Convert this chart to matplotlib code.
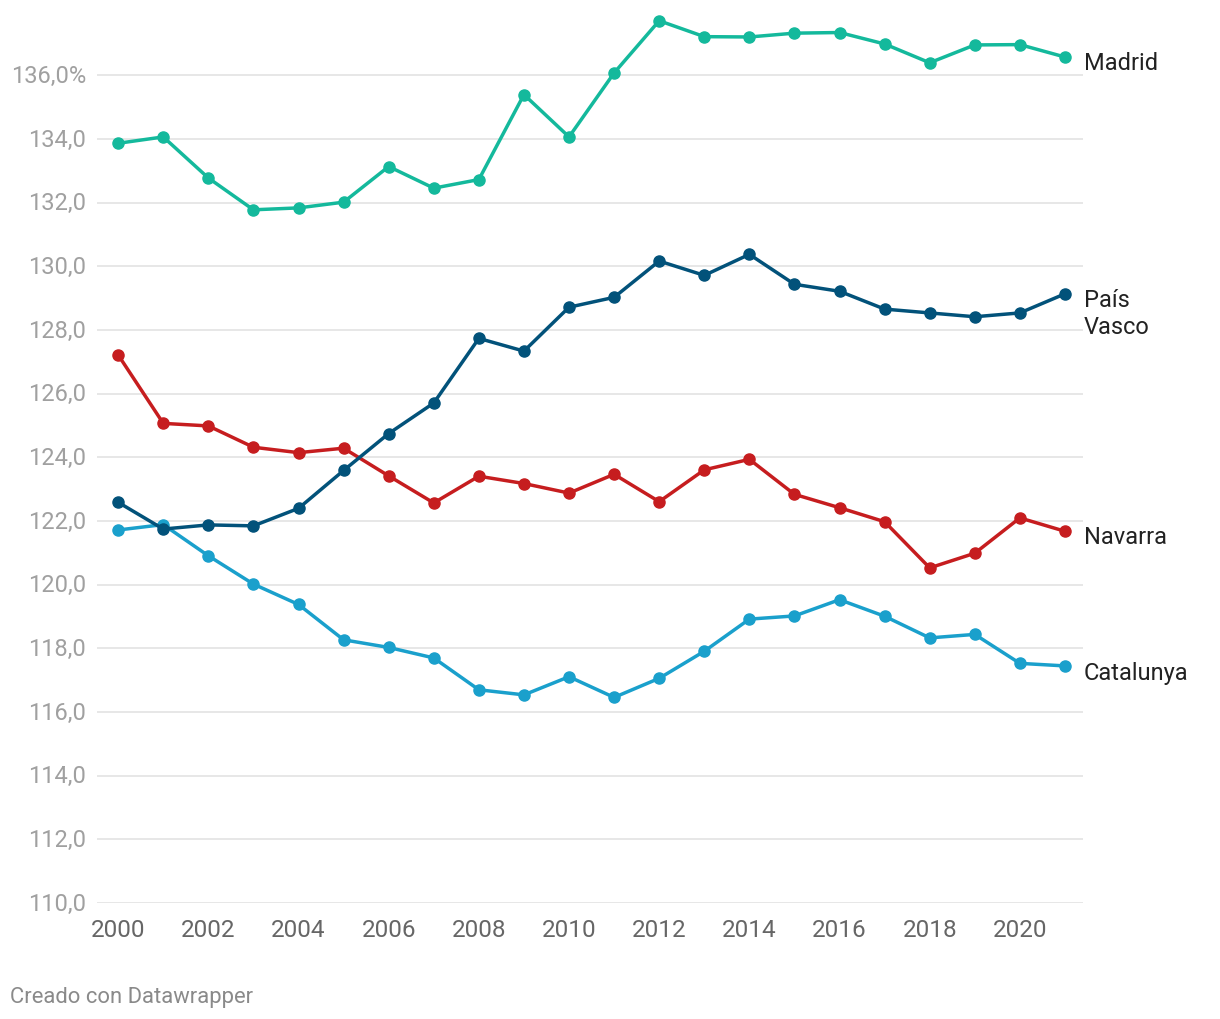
import matplotlib
matplotlib.use('Agg')
import matplotlib.pyplot as plt
import numpy as np

plt.rcParams['font.family'] = ['Roboto', 'DejaVu Sans']

years = list(range(2000, 2022))

madrid = [133.87, 134.07, 132.78, 131.78, 131.84, 132.02, 133.14, 132.46, 132.73, 135.40, 134.07,
          136.08, 137.72, 137.22, 137.21, 137.33, 137.35, 136.99, 136.40, 136.96, 136.97, 136.58]
pais_vasco = [122.59, 121.75, 121.88, 121.85, 122.40, 123.59, 124.75, 125.71, 127.74, 127.34, 128.72,
              129.03, 130.17, 129.72, 130.38, 129.44, 129.22, 128.66, 128.54, 128.42, 128.54, 129.14]
navarra = [127.22, 125.07, 124.99, 124.32, 124.15, 124.29, 123.42, 122.57, 123.41, 123.18, 122.88,
           123.47, 122.61, 123.61, 123.94, 122.84, 122.42, 121.98, 120.53, 120.99, 122.10, 121.68]
catalunya = [121.72, 121.89, 120.91, 120.02, 119.38, 118.27, 118.03, 117.70, 116.70, 116.54, 117.11,
             116.46, 117.06, 117.91, 118.92, 119.02, 119.53, 119.01, 118.33, 118.44, 117.53, 117.45]

series = [
    ('Madrid', madrid, '#14b99c'),
    ('Navarra', navarra, '#c61d1f'),
    ('Catalunya', catalunya, '#1aa0cc'),
    ('País\nVasco', pais_vasco, '#02527a'),
]

yticks = list(range(110, 137, 2))
xticks = list(range(2000, 2021, 2))

fig = plt.figure(figsize=(12.2, 10.2), dpi=100)
ax = fig.add_axes([0.0795, 0.1137, 0.8082, 0.8706])

for name, vals, col in series:
    ax.plot(years, vals, color=col, lw=2.5, marker='o', ms=8, solid_capstyle='round', zorder=3)

# etiquetas al final de cada linea
ax.annotate('Madrid', xy=(years[-1], madrid[-1]), xytext=(19, -5), textcoords='offset pixels',
            va='center', ha='left', fontsize=17, color='#222222')
ax.annotate('País\nVasco', xy=(years[-1], pais_vasco[-1]), xytext=(19, -19), textcoords='offset pixels',
            va='center', ha='left', fontsize=17, color='#222222', linespacing=1.22)
ax.annotate('Navarra', xy=(years[-1], navarra[-1]), xytext=(19, -5), textcoords='offset pixels',
            va='center', ha='left', fontsize=17, color='#222222')
ax.annotate('Catalunya', xy=(years[-1], catalunya[-1]), xytext=(19, -7), textcoords='offset pixels',
            va='center', ha='left', fontsize=17, color='#222222')

ax.set_xlim(1999.53, 2021.4)
ax.set_ylim(110, 137.9)
ax.set_yticks(yticks)
ax.set_yticklabels([f'{v},0%' if v == 136 else f'{v},0' for v in yticks])
ax.set_xticks(xticks)
ax.set_xticklabels([str(x) for x in xticks])
ax.grid(axis='y', color='#e3e3e3', lw=1.2, zorder=0)
for s in ax.spines.values():
    s.set_visible(False)
ax.tick_params(axis='y', length=0, pad=8, labelsize=17, labelcolor='#a0a0a0')
ax.tick_params(axis='x', length=0, pad=11, labelsize=17.5, labelcolor='#666666')
for lab in ax.get_yticklabels():
    lab.set_verticalalignment('center')

fig.text(0.008, 0.0225, 'Creado con Datawrapper', fontsize=15.8, color='#8a8a8a', ha='left', va='center')

fig.savefig('out.png', dpi=100, facecolor='white')
